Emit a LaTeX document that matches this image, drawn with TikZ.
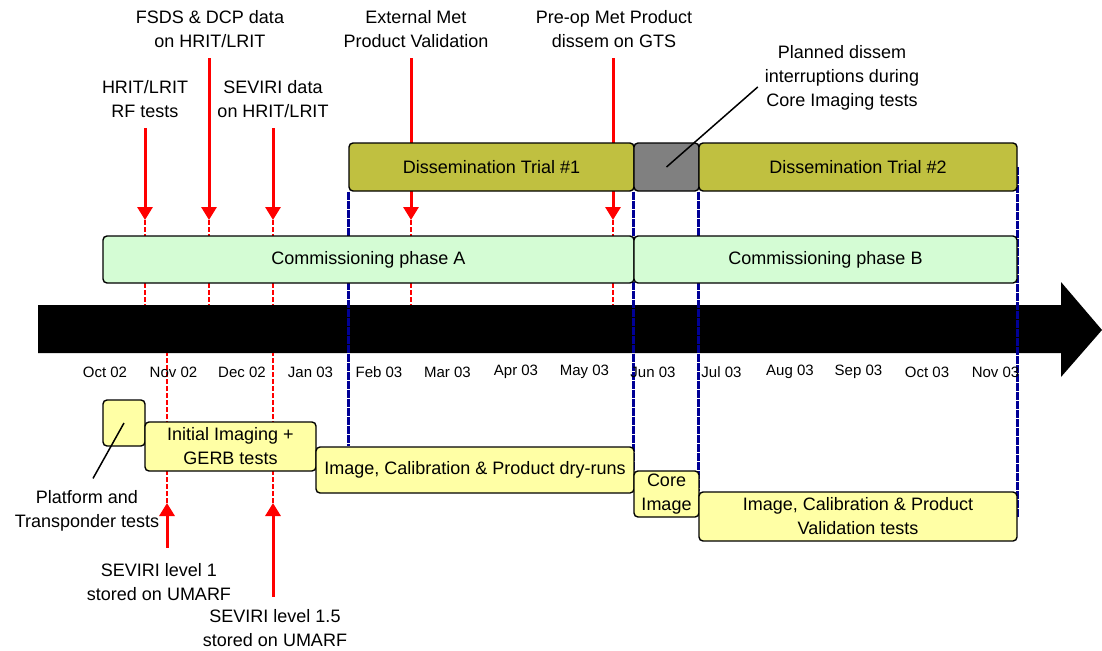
\documentclass[tikz,border=0pt]{standalone}
\usepackage{fontspec}
\setmainfont{Liberation Sans}
\usetikzlibrary{arrows.meta,backgrounds}
\definecolor{trialolive}{RGB}{192,192,64}
\definecolor{phasegreen}{RGB}{212,252,212}
\definecolor{testyellow}{RGB}{255,255,165}
\definecolor{gapgray}{RGB}{128,128,128}
\definecolor{marknavy}{RGB}{0,0,150}
\definecolor{markred}{RGB}{255,0,0}
\begin{document}
\begin{tikzpicture}[x=1pt,y=-1pt,
        box/.style={rectangle,rounded corners=4pt,draw=black,line width=1.4pt,inner sep=1pt,
            align=center,font=\fontsize{18}{24}\selectfont},
        lbl/.style={align=center,inner sep=2pt,font=\fontsize{18}{24}\selectfont},
        month/.style={inner sep=0pt,font=\fontsize{15}{18}\selectfont},
        redarrow/.style={draw=markred,line width=3pt,-{Triangle[width=15pt,length=13pt]}},
        reddash/.style={draw=markred,line width=1.5pt,dash pattern=on 5pt off 2pt},
        bluedash/.style={draw=marknavy,line width=2.5pt,dash pattern=on 8pt off 1pt},
        pointer/.style={draw=black,line width=1.5pt}]
    \useasboundingbox (0,0) rectangle (1102,650);

    \node[box,fill=trialolive,minimum width=285pt,minimum height=48pt] (trial1) at (491.5,167) {Dissemination Trial \#1};
    \node[box,fill=gapgray,minimum width=65pt,minimum height=48pt] (gap) at (666.5,167) {};
    \node[box,fill=trialolive,minimum width=318pt,minimum height=48pt] (trial2) at (858,167) {Dissemination Trial \#2};
    \node[box,fill=phasegreen,minimum width=531pt,minimum height=47pt] (phaseA) at (368.5,259.5) {Commissioning phase A};
    \node[box,fill=phasegreen,minimum width=383pt,minimum height=47pt] (phaseB) at (825.5,259.5) {Commissioning phase B};

    \node[box,fill=testyellow,minimum width=42pt,minimum height=46pt] (platform) at (124,423) {};
    \node[box,fill=testyellow,minimum width=171pt,minimum height=49pt] (initial) at (230.5,446.5) {Initial Imaging +\\GERB tests};
    \node[box,fill=testyellow,minimum width=318pt,minimum height=46pt] (dryruns) at (475,470) {Image, Calibration \& Product dry-runs};
    \node[box,fill=testyellow,minimum width=65pt,minimum height=46pt] (core) at (666.5,494) {Core\\Image};
    \node[box,fill=testyellow,minimum width=318pt,minimum height=49pt] (valid) at (858,516.5) {Image, Calibration \& Product\\Validation tests};

    \node[lbl] (rflbl) at (145,99) {HRIT/LRIT\\RF tests};
    \node[lbl] (fsdslbl) at (210,29) {FSDS \& DCP data\\on HRIT/LRIT};
    \node[lbl] (sevlbl) at (273,99) {SEVIRI data\\on HRIT/LRIT};
    \node[lbl] (extlbl) at (416,29) {External Met\\Product Validation};
    \node[lbl] (prelbl) at (614,29) {Pre-op Met Product\\dissem on GTS};
    \node[lbl] (planlbl) at (842,78) {Planned dissem\\interruptions during\\Core Imaging tests};
    \node[lbl] (platlbl) at (87,511) {Platform and\\Transponder tests};
    \node[lbl] (sev1lbl) at (159,582) {SEVIRI level 1\\stored on UMARF};
    \node[lbl] (sev15lbl) at (275,628) {SEVIRI level 1.5\\stored on UMARF};

    \foreach \i/\m in {0/Oct 02,1/Nov 02,2/Dec 02,3/Jan 03,4/Feb 03,5/Mar 03,6/Apr 03,
            7/May 03,8/Jun 03,9/Jul 03,10/Aug 03,11/Sep 03,12/Oct 03,13/Nov 03}
        \node[month] (mon\i) at (105+68.5*\i,372) {\m};

    \draw[pointer] (gap.center) -- ([xshift=-5pt,yshift=-9pt]planlbl.west);
    \draw[pointer] (platform.center) -- ([xshift=6pt,yshift=10pt]platlbl.north);

    \begin{scope}[on background layer]
        \coordinate (bandtop) at (38,305);
        \coordinate (bandbot) at (38,353);
        \fill[black] (bandtop) -- (1061,305) -- (1061,282) -- (1102,330) -- (1061,377) -- (1061,353) -- (bandbot) -- cycle;

        \draw[bluedash] (trial1.west |- trial1.south) -- (trial1.west |- dryruns.north);
        \draw[bluedash] (gap.west |- gap.south) -- (gap.west |- core.north);
        \draw[bluedash] (trial2.west |- trial2.south) -- (trial2.west |- valid.north);
        \draw[bluedash] (trial2.east) -- (valid.east);

        \foreach \x/\lbl in {145/rflbl,209/fsdslbl,273/sevlbl,411/extlbl,613/prelbl} {
            \coordinate (tip\lbl) at (\x,220);
            \draw[redarrow,shorten <=8.5pt] (tip\lbl |- \lbl.south) -- (tip\lbl);
            \draw[reddash] (tip\lbl) -- (tip\lbl |- bandtop);
        }
        \foreach \x/\lbl/\s in {167/sev1lbl/13.5,273/sev15lbl/10.5} {
            \coordinate (tip\lbl) at (\x,503);
            \draw[redarrow,shorten <=\s pt] (tip\lbl |- \lbl.north) -- (tip\lbl);
            \draw[reddash] (tip\lbl) -- (tip\lbl |- bandbot);
        }
    \end{scope}
\end{tikzpicture}
\end{document}
